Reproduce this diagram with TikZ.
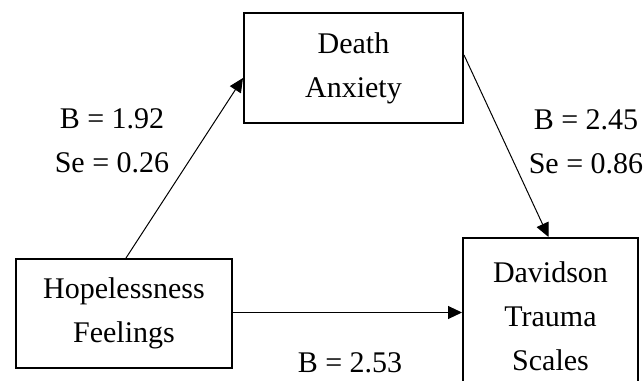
\documentclass[tikz,border=0pt]{standalone}
\usepackage{fontspec}
\setmainfont{Liberation Serif}
\usetikzlibrary{arrows.meta}
\tikzset{
    varbox/.style={draw, line width=1pt},
    pathline/.style={draw, line width=0.5pt, -{Triangle[length=7pt,width=6.5pt]}}
}

\begin{document}
\begin{tikzpicture}[x=0.5pt,y=-0.5pt]
            \useasboundingbox (0,0) rectangle (644,381);
            \clip (0,0) rectangle (644,381);
            \begin{scope}[every node/.style={align=center, font=\fontsize{15}{22}\selectfont}]

                \node[varbox, minimum width=109.5pt, minimum height=55pt] (death) at (353.5,68) {Death\\Anxiety};
                \node[varbox, minimum width=108pt, minimum height=54.5pt] (hope) at (124,313.5) {Hopelessness\\Feelings};
                \node[varbox, minimum width=87.5pt, minimum height=78.5pt] (dts) at (550.5,316.5) {Davidson\\Trauma\\Scales};

                \node (b1) at (112,141) {B = 1.92\\Se = 0.26};
                \node (b2) at (586,142) {B = 2.45\\Se = 0.86};
                \node (b3) at (350,363) {B = 2.53};

                \path ([xshift=1pt]hope.north) edge[pathline] ([yshift=-5pt]death.west);
                \path ([yshift=6.5pt]death.east) edge[pathline] ([xshift=-1pt]dts.north);
                \path ([yshift=0.5pt]hope.east) edge[pathline] ([yshift=0.5pt]hope.east -| dts.west);
            \end{scope}
        \end{tikzpicture}
\end{document}
